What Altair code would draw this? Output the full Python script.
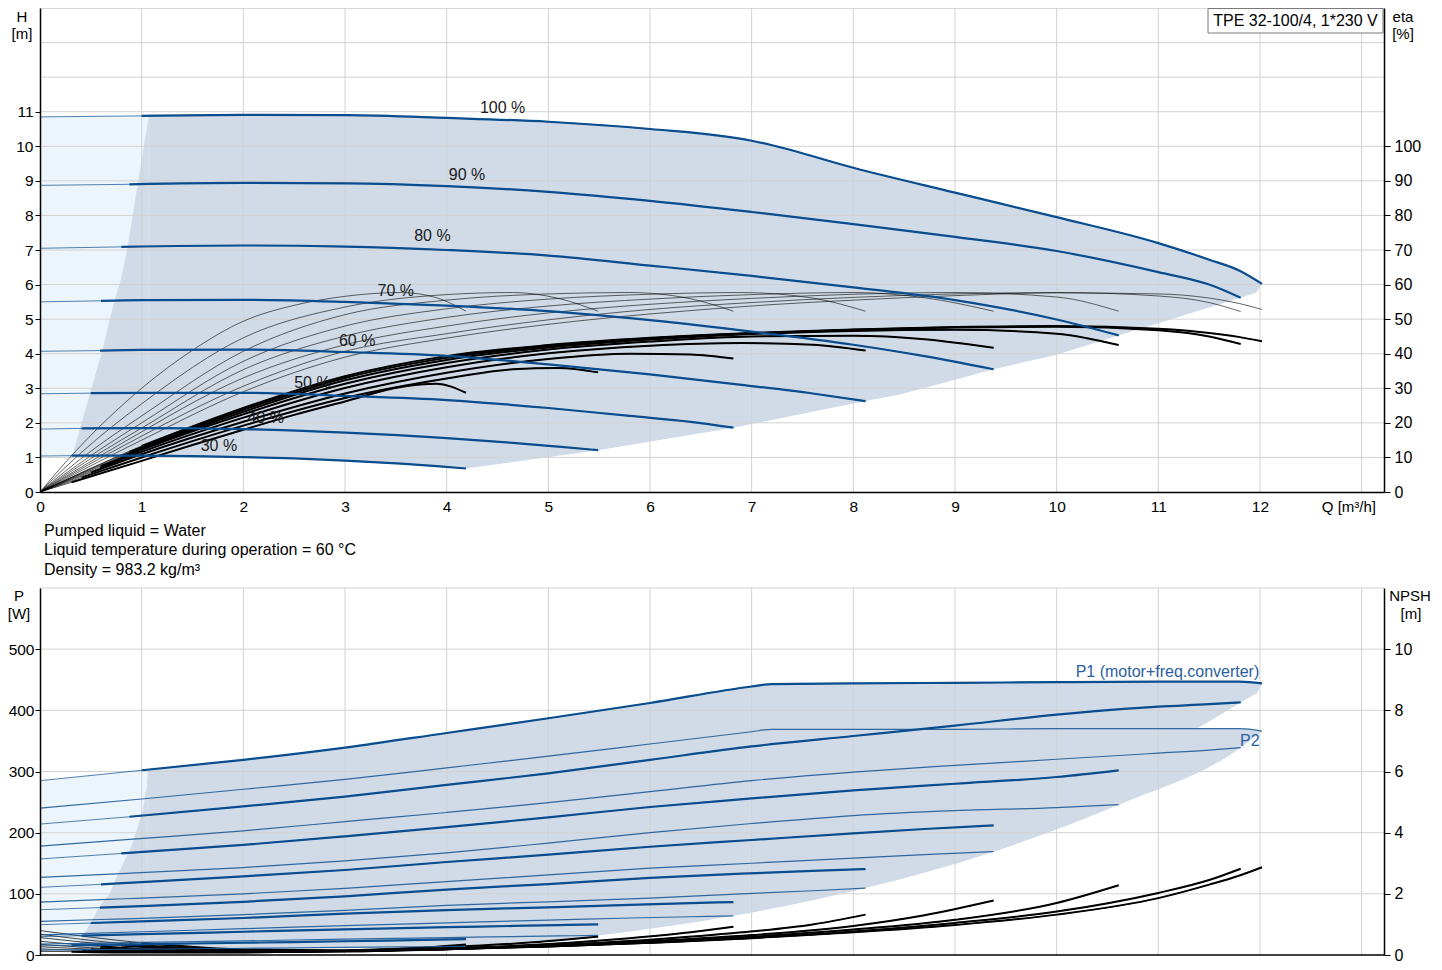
import altair as alt
import pandas as pd

# ---------------- data ----------------
SPEEDS = [100, 90, 80, 70, 60, 50, 40, 30]

Q100 = [0, 1, 2, 3, 4, 5, 6, 7, 7.2, 8, 9, 10, 11, 11.5, 11.8, 12.02]
H100 = [10.85, 10.88, 10.91, 10.9, 10.82, 10.71, 10.5, 10.16, 10.03, 9.38, 8.66, 7.95, 7.2, 6.72, 6.4, 6.02]
ETA100 = [0, 15, 29, 39, 44.5, 48.5, 51.5, 53.8, 54.2, 55.5, 56.8, 57.6, 57.3, 56.1, 54.5, 52.8]
ETT100 = [0, 13.3, 24.3, 33.5, 39.3, 42.5, 44.6, 46, 46.2, 47, 47.7, 48, 47.2, 46, 44.8, 43.6]
P1_100 = [285, 302, 319, 339, 363, 387, 412, 439, 443, 444, 445, 446, 447, 447, 447, 444]
P2_100 = [240, 255, 271, 287, 306, 325, 345, 365, 369, 369, 369, 370, 370, 370, 370, 366]
N100 = [0.8, 0.4, 0.18, 0.15, 0.2, 0.28, 0.4, 0.55, 0.59, 0.74, 0.98, 1.32, 1.86, 2.3, 2.6, 2.87]

Q90 = [0, 0.88, 2, 3, 4, 5, 6, 7, 8, 9, 10, 11, 11.5, 11.81]
H90 = [8.87, 8.9, 8.94, 8.93, 8.85, 8.68, 8.42, 8.1, 7.75, 7.38, 6.97, 6.36, 6.0, 5.62]
ETA90 = [0, 14.3, 30.6, 40.7, 45.8, 49.8, 52.8, 54.8, 56.3, 57.3, 57.7, 56.7, 54.8, 52.2]
ETT90 = [0, 11.6, 23.8, 33, 38.8, 42.2, 44.4, 45.9, 46.9, 47.6, 47.8, 46.8, 45, 42.8]
P1_90 = [214, 226, 243, 259, 278, 297, 319, 341, 358, 375, 393, 406, 410, 413]
P2_90 = [178, 189, 203, 218, 233, 249, 267, 285, 299, 310, 320, 330, 335, 339]
N90 = [0.68, 0.35, 0.15, 0.14, 0.19, 0.28, 0.4, 0.56, 0.77, 1.05, 1.42, 2.03, 2.45, 2.82]

Q80 = [0, 0.8, 2, 3, 4, 5, 6, 7, 8, 9, 10, 10.61]
H80 = [7.05, 7.09, 7.13, 7.1, 7.0, 6.84, 6.55, 6.25, 5.92, 5.55, 4.99, 4.53]
ETA80 = [0, 14, 33, 42.6, 48, 51.8, 54.3, 56, 57.2, 57.7, 56.4, 52.3]
ETT80 = [0, 10.3, 23.2, 32.3, 38.2, 41.8, 44.1, 45.7, 46.6, 46.9, 45.8, 42.5]
P1_80 = [157, 166, 180, 194, 209, 225, 242, 256, 269, 280, 291, 302]
P2_80 = [127, 133, 143, 154, 167, 183, 200, 215, 228, 236, 241, 246]
N80 = [0.57, 0.31, 0.13, 0.13, 0.19, 0.29, 0.42, 0.6, 0.83, 1.15, 1.7, 2.28]

Q70 = [0, 0.6, 1, 2, 3, 4, 5, 6, 7, 8, 8.7, 9.38]
H70 = [5.5, 5.53, 5.55, 5.56, 5.5, 5.39, 5.23, 4.97, 4.64, 4.26, 3.93, 3.55]
ETA70 = [0, 11.5, 18.5, 35.4, 45.1, 50.5, 53.8, 55.8, 57.1, 57.7, 56.2, 52.3]
ETT70 = [0, 7.5, 12.2, 22.5, 31.3, 37.3, 41.2, 43.5, 45, 45.2, 44.2, 41.7]
P1_70 = [110.6, 115.5, 119, 128.5, 139, 152, 164, 177, 188, 199, 206, 212]
P2_70 = [86.6, 90.5, 93, 100, 109, 120, 131, 142, 150, 158.5, 164, 169]
N70 = [0.45, 0.28, 0.2, 0.11, 0.12, 0.19, 0.3, 0.45, 0.65, 0.95, 1.3, 1.78]

Q60 = [0, 0.59, 1, 2, 3, 4, 5, 6, 6.9, 7.6, 8.12]
H60 = [4.07, 4.09, 4.11, 4.12, 4.05, 3.94, 3.69, 3.4, 3.1, 2.85, 2.63]
ETA60 = [0, 12.3, 20, 37.8, 48, 53, 55.8, 57.2, 57.7, 56.1, 52.3]
ETT60 = [0, 7, 11.6, 21.5, 30.1, 36.1, 40.1, 42.3, 43.1, 42.6, 40.9]
P1_60 = [74, 77.5, 80, 87, 96, 107, 116, 126, 133, 137.5, 140.5]
P2_60 = [55, 58, 60, 66, 73, 81, 87, 93, 100, 105, 109.5]
N60 = [0.35, 0.22, 0.16, 0.1, 0.12, 0.2, 0.32, 0.5, 0.74, 1.0, 1.32]

Q50 = [0, 0.5, 1, 2, 3, 4, 5, 5.8, 6.4, 6.82]
H50 = [2.84, 2.86, 2.87, 2.87, 2.78, 2.66, 2.43, 2.2, 2.03, 1.86]
ETA50 = [0, 11.8, 22, 40.7, 51.3, 55.5, 57.3, 57.7, 55.9, 52.3]
ETT50 = [0, 5.6, 10.9, 20.3, 28.5, 34.5, 38.5, 40, 39.8, 38.6]
P1_50 = [49.5, 52.3, 55, 60.5, 67.5, 73.5, 78, 82, 84.8, 86.6]
P2_50 = [33, 35.5, 38, 43, 48, 52.5, 57, 60.5, 62.5, 64]
N50 = [0.27, 0.19, 0.13, 0.09, 0.12, 0.21, 0.36, 0.55, 0.74, 0.92]

Q40 = [0, 0.41, 1, 2, 3, 4, 4.65, 5.1, 5.49]
H40 = [1.82, 1.84, 1.85, 1.82, 1.72, 1.56, 1.42, 1.31, 1.21]
ETA40 = [0, 11.5, 25.5, 44.6, 53.5, 57.1, 57.7, 56, 52.3]
ETT40 = [0, 4.2, 10, 19.2, 27.2, 32.8, 35.5, 35.9, 34.6]
P1_40 = [30, 31.6, 34, 38, 42, 45.5, 47.5, 49, 50]
P2_40 = [18, 19, 20.5, 23, 26, 28.5, 30, 31.2, 32]
N40 = [0.2, 0.15, 0.1, 0.09, 0.13, 0.25, 0.37, 0.48, 0.6]

Q30 = [0, 0.31, 1, 1.5, 2, 2.5, 3, 3.55, 3.9, 4.19]
H30 = [1.04, 1.05, 1.05, 1.04, 1.01, 0.97, 0.91, 0.82, 0.75, 0.68]
ETA30 = [0, 10.5, 30, 41, 49.4, 54, 56.6, 57.7, 56.2, 52.3]
ETT30 = [0, 2.8, 9, 13.6, 18, 22.3, 26.2, 30.4, 31.3, 28.7]
P1_30 = [15, 15.8, 17.5, 18.8, 20, 21.2, 22.5, 23.8, 25, 26]
P2_30 = [8, 8.4, 9.5, 10.2, 11, 11.7, 12.5, 13.2, 13.7, 14]
N30 = [0.12, 0.11, 0.08, 0.08, 0.09, 0.11, 0.15, 0.21, 0.27, 0.34]

# operating-area boundaries, head chart
LIGHT_Q = [0, 1, 1.07]
LIGHT_H = [10.85, 10.88, 10.87]
LB_Q = [0.32, 0.39, 0.49, 0.61, 0.73, 0.8, 0.86, 0.96, 1.07]
LB_H = [1.05, 1.8, 2.82, 4.07, 5.5, 6.19, 7.06, 8.88, 10.87]
RB_Q = [4.19, 5.49, 6.82, 8.12, 8.46, 9.0, 9.38, 10.0, 10.61, 11.81, 11.96, 12.02]
RB_H = [0.68, 1.21, 1.86, 2.63, 2.82, 3.25, 3.55, 3.97, 4.53, 5.62, 5.76, 6.02]

# operating-area boundaries, power chart
LIGHT_PQ = [0, 1, 1.06]
LIGHT_P = [285, 302, 303]
BLB_Q = [0.37, 0.45, 0.59, 0.68, 0.75, 0.9, 1.01, 1.05, 1.06]
BLB_P = [14, 39, 80, 99, 126, 178, 235, 275, 303]
BRB_Q = [4.19, 5.49, 6.82, 8.12, 9.38, 10.61, 11.81, 12.02]
BRB_P = [14, 32, 64, 109.5, 169, 245.6, 339, 366]
NOTCH_Q = [11.38, 11.81, 11.97, 12.02]
NOTCH_LO = [370, 370, 370, 366]
NOTCH_HI = [370, 413, 428, 444]

LBL_T = ["100 %", "90 %", "80 %", "70 %", "60 %", "50 %", "40 %", "30 %"]
LBL_Q = [4.55, 4.2, 3.86, 3.5, 3.12, 2.68, 2.22, 1.76]
LBL_H = [11.11, 9.18, 7.41, 5.8, 4.37, 3.16, 2.14, 1.33]

PLBL_T = ["P1 (motor+freq.converter)", "P2"]
PLBL_Q = [11.09, 11.9]
PLBL_P = [462, 350]

X_TICKS = list(range(0, 13))
X_GRID = list(range(1, 14))
H_TICKS = list(range(0, 12))
H_GRID = list(range(1, 15))
ETA_TICKS = list(range(0, 101, 10))
P_TICKS = [0, 100, 200, 300, 400, 500]
P_GRID = [100, 200, 300, 400, 500, 600]
NPSH_TICKS = [0, 2, 4, 6, 8, 10]

INFO = ["Pumped liquid = Water",
        "Liquid temperature during operation = 60 °C",
        "Density = 983.2 kg/m³"]
TITLE_BOX = "TPE 32-100/4, 1*230 V"

# ---------------- build tables ----------------
QS = [Q100, Q90, Q80, Q70, Q60, Q50, Q40, Q30]


def long_table(vals):
    rows = []
    for s, qs, vs in zip(SPEEDS, QS, vals):
        for i, (q, v) in enumerate(zip(qs, vs)):
            rows.append({"speed": s, "i": i, "Q": q, "v": v})
    return pd.DataFrame(rows)


dfH = long_table([H100, H90, H80, H70, H60, H50, H40, H30])
dfE = long_table([ETA100, ETA90, ETA80, ETA70, ETA60, ETA50, ETA40, ETA30])
dfT = long_table([ETT100, ETT90, ETT80, ETT70, ETT60, ETT50, ETT40, ETT30])
dfP1 = long_table([P1_100, P1_90, P1_80, P1_70, P1_60, P1_50, P1_40, P1_30])
dfP2 = long_table([P2_100, P2_90, P2_80, P2_70, P2_60, P2_50, P2_40, P2_30])
dfN = long_table([N100, N90, N80, N70, N60, N50, N40, N30])

FONT = "Liberation Sans"
BLUE = "#0a4d8f"
DARK = "#d0dbe7"
LIGHT = "#edf5fc"
GRID = "#d2d2d2"
W = 1344

xs = alt.Scale(domain=[0, 13.22], nice=False, zero=False)
sH = alt.Scale(domain=[0, 14], range=[484, 0], nice=False)
sE = alt.Scale(domain=[0, 140], range=[484, 0], nice=False)
sP = alt.Scale(domain=[0, 600], range=[947, 580], nice=False)
sN = alt.Scale(domain=[0, 12], range=[947, 580], nice=False)

ax_common = dict(grid=False, title=None, zindex=1, labelFont=FONT,
                 labelColor="black", domainColor="black", domainWidth=1.5,
                 tickColor="black", tickWidth=1, labelOverlap=False, labelBound=False)
ax_x = alt.Axis(values=X_TICKS, ticks=False, labelPadding=7, labelFlush=False, format="d",
                labelFontSize=15.5, **ax_common)
ax_H = alt.Axis(orient="left", values=H_TICKS, tickSize=5, labelPadding=2, format="d",
                labelFontSize=15.5, **ax_common)
ax_E = alt.Axis(orient="right", values=ETA_TICKS, tickSize=6, labelPadding=4, format="d",
                labelFontSize=16, **ax_common)
ax_P = alt.Axis(orient="left", values=P_TICKS, tickSize=5, labelPadding=1, format="d",
                labelFontSize=15.5, **ax_common)
ax_N = alt.Axis(orient="right", values=NPSH_TICKS, tickSize=6, labelPadding=4, format="d",
                labelFontSize=16, **ax_common)


def X():
    return alt.X("Q:Q", scale=xs, axis=ax_x)


def Y(scale, axis=None, field="v"):
    return alt.Y(f"{field}:Q", scale=scale, axis=axis)


def tbl(q, v):
    return pd.DataFrame({"Q": q, "v": v})


one = pd.DataFrame({"a": [0]})
layers = []

# ---- head chart areas ----
layers.append(alt.Chart(tbl(LIGHT_Q, LIGHT_H)).mark_area(color=LIGHT).encode(x=X(), y=Y(sH)))
layers.append(alt.Chart(tbl(LB_Q, LB_H)).mark_area(color=DARK).encode(x=X(), y=Y(sH)))
layers.append(alt.Chart(tbl([LB_Q[-1]] + Q100[2:], [LB_H[-1]] + H100[2:]))
              .mark_area(color=DARK, interpolate="monotone").encode(x=X(), y=Y(sH)))
layers.append(alt.Chart(tbl(Q30, H30)).mark_area(color="white", interpolate="monotone")
              .encode(x=X(), y=Y(sH)))
layers.append(alt.Chart(tbl(RB_Q, RB_H)).mark_area(color="white").encode(x=X(), y=Y(sH)))

# ---- power chart areas ----
layers.append(alt.Chart(tbl(LIGHT_PQ, LIGHT_P)).mark_area(color=LIGHT).encode(x=X(), y=Y(sP)))
layers.append(alt.Chart(tbl(BLB_Q, BLB_P)).mark_area(color=DARK).encode(x=X(), y=Y(sP)))
layers.append(alt.Chart(tbl([BLB_Q[-1]] + Q100[2:], [BLB_P[-1]] + P1_100[2:]))
              .mark_area(color=DARK, interpolate="monotone").encode(x=X(), y=Y(sP)))
layers.append(alt.Chart(tbl(Q30, P2_30)).mark_area(color="white", interpolate="monotone")
              .encode(x=X(), y=Y(sP)))
layers.append(alt.Chart(tbl(BRB_Q, BRB_P)).mark_area(color="white", interpolate="monotone")
              .encode(x=X(), y=Y(sP)))
layers.append(alt.Chart(pd.DataFrame({"Q": NOTCH_Q, "lo": NOTCH_LO, "hi": NOTCH_HI}))
              .mark_area(color="white")
              .encode(x=X(), y=alt.Y("lo:Q", scale=sP, axis=None), y2="hi:Q"))

# ---- grids ----
layers.append(alt.Chart(pd.DataFrame({"v": H_GRID})).mark_rule(color=GRID, strokeWidth=1)
              .encode(y=Y(sH, ax_H), x=alt.value(0), x2=alt.value(W)))
layers.append(alt.Chart(pd.DataFrame({"v": P_GRID})).mark_rule(color=GRID, strokeWidth=1)
              .encode(y=Y(sP, ax_P), x=alt.value(0), x2=alt.value(W)))
layers.append(alt.Chart(pd.DataFrame({"Q": X_GRID})).mark_rule(color=GRID, strokeWidth=1)
              .encode(x=X(), y=alt.value(0), y2=alt.value(484)))
layers.append(alt.Chart(pd.DataFrame({"Q": X_GRID})).mark_rule(color=GRID, strokeWidth=1)
              .encode(x=X(), y=alt.value(580), y2=alt.value(947)))
layers.append(alt.Chart(one).mark_rule(color="black", strokeWidth=1.5)
              .encode(x=alt.value(0), x2=alt.value(W), y=alt.value(947)))

# ---- efficiency curves ----
layers.append(alt.Chart(dfE).mark_line(color="black", strokeWidth=0.8, opacity=0.75, interpolate="monotone")
              .encode(x=X(), y=Y(sE, ax_E), detail="speed:N"))
layers.append(alt.Chart(dfT).mark_line(color="black", strokeWidth=0.8, opacity=0.8, interpolate="monotone")
              .encode(x=X(), y=Y(sE), detail="speed:N"))
layers.append(alt.Chart(dfT[dfT.i >= 1]).mark_line(color="black", strokeWidth=2, interpolate="monotone")
              .encode(x=X(), y=Y(sE), detail="speed:N"))

# ---- head curves ----
layers.append(alt.Chart(dfH).mark_line(color=BLUE, strokeWidth=1, opacity=0.7, interpolate="monotone")
              .encode(x=X(), y=Y(sH), detail="speed:N"))
layers.append(alt.Chart(dfH[dfH.i >= 1]).mark_line(color=BLUE, strokeWidth=2.2, interpolate="monotone")
              .encode(x=X(), y=Y(sH), detail="speed:N"))

# ---- NPSH curves ----
layers.append(alt.Chart(dfN).mark_line(color="black", strokeWidth=0.9, opacity=0.8, interpolate="monotone")
              .encode(x=X(), y=Y(sN, ax_N), detail="speed:N"))
layers.append(alt.Chart(dfN[dfN.i >= 1]).mark_line(color="black", strokeWidth=2, interpolate="monotone")
              .encode(x=X(), y=Y(sN), detail="speed:N"))

# ---- power curves ----
layers.append(alt.Chart(dfP2).mark_line(color="#1d5a98", strokeWidth=1.2, opacity=0.9, interpolate="monotone")
              .encode(x=X(), y=Y(sP), detail="speed:N"))
layers.append(alt.Chart(dfP1).mark_line(color=BLUE, strokeWidth=1, opacity=0.7, interpolate="monotone")
              .encode(x=X(), y=Y(sP), detail="speed:N"))
layers.append(alt.Chart(dfP1[dfP1.i >= 1]).mark_line(color=BLUE, strokeWidth=2.2, interpolate="monotone")
              .encode(x=X(), y=Y(sP), detail="speed:N"))

# ---- labels ----
layers.append(alt.Chart(pd.DataFrame({"Q": LBL_Q, "v": LBL_H, "t": LBL_T}))
              .mark_text(font=FONT, fontSize=16, color="#1a1a1a")
              .encode(x=X(), y=Y(sH), text="t:N"))
layers.append(alt.Chart(pd.DataFrame({"Q": PLBL_Q, "v": PLBL_P, "t": PLBL_T}))
              .mark_text(font=FONT, fontSize=16, color="#2a60a0")
              .encode(x=X(), y=Y(sP), text="t:N"))


def txt(s, x, y, align="center", size=15):
    return (alt.Chart(one).mark_text(font=FONT, fontSize=size, color="black", align=align, baseline="middle")
            .encode(x=alt.value(x), y=alt.value(y), text=alt.value(s)))


for s, x, y in [("H", -18, 9), ("[m]", -18, 26), ("eta", 1363, 9), ("[%]", 1363, 26),
                ("P", -21, 588), ("[W]", -21, 606), ("NPSH", 1370, 588), ("[m]", 1371, 606)]:
    layers.append(txt(s, x, y))
layers.append(txt("Q [m³/h]", 1336, 499, align="right"))
for k, line in enumerate(INFO):
    layers.append(txt(line, 4, [523, 542, 562][k], align="left", size=16))

layers.append(alt.Chart(one).mark_rect(fill="white", stroke="#7a7a7a", strokeWidth=1)
              .encode(x=alt.value(1168), x2=alt.value(1343), y=alt.value(0.5), y2=alt.value(25)))
layers.append(txt(TITLE_BOX, 1255.5, 13, size=16))

chart = (alt.layer(*layers)
         .resolve_scale(y="independent")
         .properties(width=W, height=484,
                     autosize=alt.AutoSizeParams(type="none"),
                     padding={"left": 32, "right": 48, "top": 0, "bottom": 472})
         .configure_view(stroke=None)
         .configure(font=FONT))

chart.save("out.html", embed_options={"renderer": "svg", "actions": False})
